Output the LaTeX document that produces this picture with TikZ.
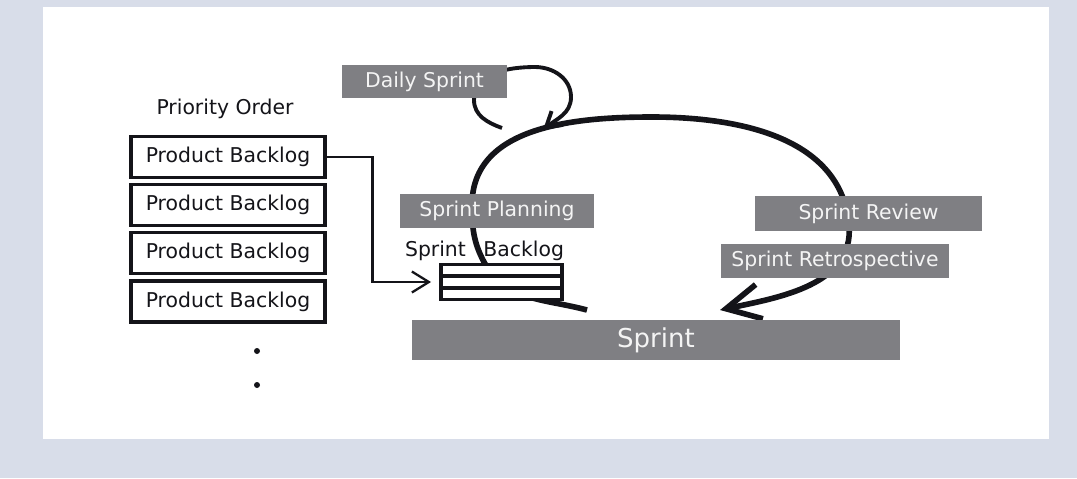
\documentclass[tikz,border=0pt]{standalone}
\usepackage{fontspec}
\setmainfont{DejaVu Sans}
\usepackage{tikz}
\usetikzlibrary{arrows.meta, positioning}
\definecolor{mybg}{RGB}{216,221,233}
\definecolor{mygray}{RGB}{127,127,131}
\definecolor{mylight}{RGB}{244,244,244}
\definecolor{myink}{RGB}{20,20,25}
\tikzset{
  pbbox/.style={rectangle, draw=myink, fill=white, line width=1.8pt,
    minimum width=3.88cm, minimum height=0.82cm, inner sep=0pt,
    font=\fontsize{11.6}{14}\selectfont, text=myink},
  graybox/.style={rectangle, fill=mygray, text=mylight, inner sep=0pt,
    font=\fontsize{11.6}{14}\selectfont},
  sbrow/.style={rectangle, draw=myink, fill=white, line width=2pt,
    minimum width=2.42cm, minimum height=0.232cm, inner sep=0pt, outer sep=0pt},
  bulletdot/.style={circle, fill=myink, minimum size=0.12cm, inner sep=0pt},
  cyclearrow/.style={-{Straight Barb[length=0.68cm, width=0.7cm]}, line width=3.2pt, color=myink},
  dailyarrow/.style={-{Straight Barb[length=0.3cm, width=0.36cm]}, line width=2.2pt, color=myink},
  pbarrow/.style={-{Straight Barb[length=0.34cm, width=0.42cm]}, line width=1.3pt, color=myink}
}

\begin{document}
\begin{tikzpicture}[x=0.02cm, y=0.02cm]
  \fill[mybg] (0,0) rectangle (1077,-478);
  \fill[white] (43,-7) rectangle (1049,-439);

  % loops, drawn under the boxes
  \coordinate (cy0) at (587,-310);
  \coordinate (cy1) at (484,-262);
  \coordinate (cy2) at (472,-205);
  \coordinate (cy3) at (652,-117);
  \coordinate (cy4) at (849,-225);
  \coordinate (cy5) at (720,-310);
  \draw[cyclearrow] (cy0) to[out=165, in=-62] (cy1) to[out=118, in=-90] (cy2)
    to[out=90, in=180] (cy3) to[out=0, in=95] (cy4) to[out=-85, in=12] (cy5);

  \coordinate (ds0) at (502,-128);
  \coordinate (ds1) at (474,-100);
  \coordinate (ds2) at (535,-67);
  \coordinate (ds3) at (571,-97);
  \coordinate (ds4) at (543,-130);
  \draw[dailyarrow] (ds0) to[out=160, in=-90] (ds1) to[out=90, in=180] (ds2)
    to[out=0, in=90] (ds3) to[out=-90, in=40] (ds4);

  % product backlog
  \node[font=\fontsize{11.6}{14}\selectfont, text=myink] (prio) at (225,-109) {Priority Order};
  \node[pbbox] (pb1) at (228,-157) {Product Backlog};
  \node[pbbox, below=0.08cm of pb1] (pb2) {Product Backlog};
  \node[pbbox, below=0.08cm of pb2] (pb3) {Product Backlog};
  \node[pbbox, below=0.08cm of pb3] (pb4) {Product Backlog};
  \node[bulletdot] (dot1) at (257,-351) {};
  \node[bulletdot] (dot2) at (257,-385) {};

  % sprint events
  \node[graybox, minimum width=3.3cm, minimum height=0.66cm] (daily) at (424.5,-81.5) {Daily Sprint};
  \node[graybox, minimum width=3.88cm, minimum height=0.68cm] (plan) at (497,-211) {Sprint Planning};
  \node[graybox, minimum width=4.54cm, minimum height=0.7cm] (review) at (868.5,-213.5) {Sprint Review};
  \node[graybox, minimum width=4.56cm, minimum height=0.68cm] (retro) at (835,-261) {Sprint Retrospective};
  \node[graybox, minimum width=9.76cm, minimum height=0.8cm, font=\fontsize{14.8}{17}\selectfont] (sprint) at (656,-340) {Sprint};

  % sprint backlog
  \node[sbrow] (sb2) at (501.5,-282) {};
  \node[sbrow, above=0pt of sb2] (sb1) {};
  \node[sbrow, below=0pt of sb2] (sb3) {};
  \node[font=\fontsize{11.6}{14}\selectfont, text=myink] (sblabel) at (484.5,-251) {Sprint\hspace{0.35cm}Backlog};

  \draw[pbarrow] (pb1.east) -- ++(0.92cm,0) |- ([xshift=-0.2cm]sb2.west);
\end{tikzpicture}
\end{document}
